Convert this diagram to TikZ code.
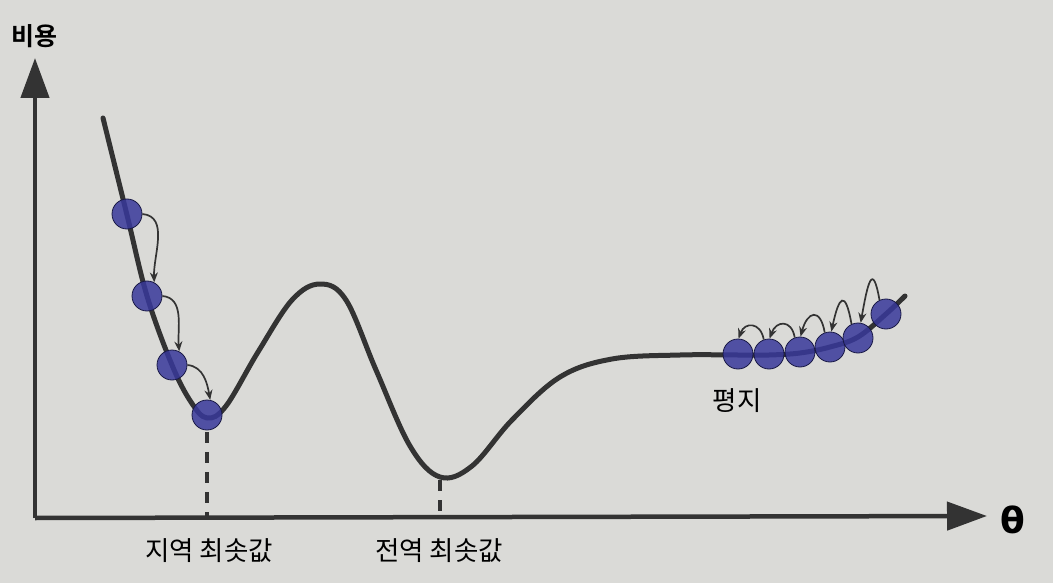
\documentclass[tikz,border=0pt]{standalone}
\usepackage{fontspec}
\newfontfamily\kr{Noto Sans CJK KR}[BoldFont={Noto Sans CJK KR Bold}]
\newfontfamily\dv{DejaVu Sans}
\usetikzlibrary{arrows.meta}
\definecolor{bg}{HTML}{DADAD7}
\definecolor{ink}{HTML}{333333}
\definecolor{ballblue}{HTML}{38389A}
\tikzset{
  axis/.style={ink, line width=4.5pt, -{Triangle[length=40pt,width=28pt]}},
  curve/.style={ink, line width=5pt, line cap=round, line join=round},
  ball/.style={circle, minimum size=30pt, inner sep=0pt, fill=ballblue, fill opacity=0.85, draw=ballblue!45!black, line width=0.8pt},
  hop/.style={ink, line width=1.7pt, -{Stealth[length=10pt,width=8pt]}},
  guide/.style={ink, line width=4pt, dash pattern=on 11pt off 9pt},
  lab/.style={font=\kr\fontsize{26.5}{30}\selectfont, text=black, inner sep=0pt}
}
\begin{document}
\begin{tikzpicture}[x=1pt,y=-1pt]
\useasboundingbox (0,0) rectangle (1053,583);
\fill[bg] (0,0) rectangle (1053,583);
% axes
\coordinate (O) at (35,518);
\coordinate (Ytip) at (35,58);
\coordinate (Xtip) at (987,516);
\draw[axis] (O) -- (Ytip);
\draw[axis] (O) -- (Xtip);
\node[font=\kr\bfseries\fontsize{25}{28}\selectfont, inner sep=0pt] (ylab) at (35,36) {비용};
\node[font=\dv\bfseries\fontsize{36}{40}\selectfont, inner sep=0pt] (xlab) at (1013,520) {θ};
% guides
\coordinate (g1top) at (207,432);
\coordinate (g1bot) at (207,516);
\coordinate (g2top) at (440,480);
\coordinate (g2bot) at (440,516);
\draw[guide] (g1top) -- (g1bot);
\draw[guide] (g2top) -- (g2bot);
% cost curve
\draw[curve] plot[smooth, tension=0.6] coordinates {
 (103,118) (127,215) (147,296) (172,365) (191,402) (207,418) (226,406)
 (258,352) (292,300) (320,284) (346,300) (376,370) (410,446) (440,477)
 (472,466) (512,420) (560,377) (612,359) (680,355) (738,355) (769,355)
 (800,353) (830,347) (858,337) (886,314) (905,296)};
% balls
\node[ball] (a1) at (127,214) {};
\node[ball] (a2) at (147,296) {};
\node[ball] (a3) at (172,365) {};
\node[ball] (a4) at (207,415) {};
\node[ball] (b1) at (738,354) {};
\node[ball] (b2) at (769,354) {};
\node[ball] (b3) at (800,352) {};
\node[ball] (b4) at (830,347) {};
\node[ball] (b5) at (858,338) {};
\node[ball] (b6) at (886,314) {};
% hops down the slope
\draw[hop] (a1.east) to[out=-5,in=92] (a2.62);
\draw[hop] (a2.east) to[out=-5,in=95] (a3.62);
\draw[hop] (a3.east) to[out=-5,in=100] (a4.78);
% hops on the plateau
\draw[hop] (b6.115) .. controls +(-100:40) and +(-80:40) .. (b5.80);
\draw[hop] (b5.115) .. controls +(-100:36) and +(-78:36) .. (b4.85);
\draw[hop] (b4.110) .. controls +(-100:26) and +(-75:26) .. (b3.88);
\draw[hop] (b3.110) .. controls +(-100:19) and +(-70:19) .. (b2.88);
\draw[hop] (b2.110) .. controls +(-100:18) and +(-70:18) .. (b1.88);
% labels
\node[lab] (l1) at (209,551) {지역 최솟값};
\node[lab] (l2) at (439,551) {전역 최솟값};
\node[lab] (l3) at (737,401) {평지};
\end{tikzpicture}
\end{document}
